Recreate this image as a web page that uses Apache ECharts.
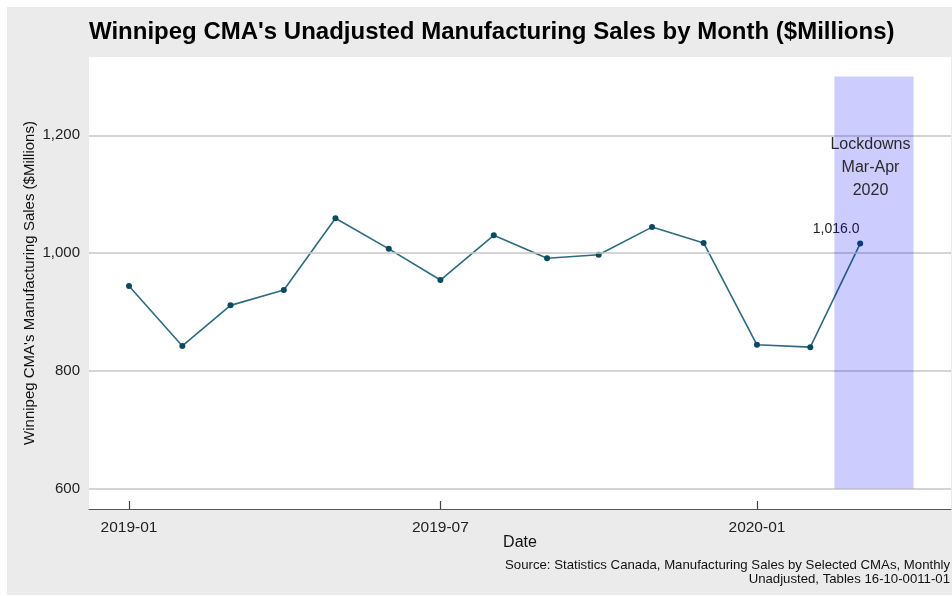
<!DOCTYPE html>
<html>
<head>
<meta charset="utf-8">
<script src="https://cdn.jsdelivr.net/npm/echarts@6/dist/echarts.min.js"></script>
<style>
  html, body { margin: 0; padding: 0; background: #ffffff; }
  #chart { position: absolute; left: 7px; top: 7px; width: 945px; height: 588px; }
</style>
</head>
<body>
<div id="chart"></div>
<script>
// Monthly unadjusted manufacturing sales, Winnipeg CMA ($ millions)
const months = ['2019-01','2019-02','2019-03','2019-04','2019-05','2019-06','2019-07',
                '2019-08','2019-09','2019-10','2019-11','2019-12','2020-01','2020-02','2020-03'];
const sales = [944, 842, 911, 937, 1059, 1007, 954, 1030, 991, 997, 1044, 1017, 844, 840, 1016];

// Axis ticks
const xTickMonths = ['2019-01', '2019-07', '2020-01'];
const yTicks = [600, 800, 1000, 1200];

// Lockdown period band and its note
const lockdownStart = '2020-02-15';
const lockdownEnd = '2020-04-01';
const lockdownLow = 600;
const lockdownHigh = 1300;
const lockdownNote = 'Lockdowns\nMar-Apr\n2020';
const lockdownNoteDate = '2020-03-07';
const lockdownNoteValue = 1145;

const titleText = "Winnipeg CMA's Unadjusted Manufacturing Sales by Month ($Millions)";
const yName = "Winnipeg CMA's Manufacturing Sales ($Millions)";
const xName = 'Date';
const sourceText = 'Source: Statistics Canada, Manufacturing Sales by Selected CMAs, Monthly\nUnadjusted, Tables 16-10-0011-01';

function toTime(s) {
  const p = s.split('-').map(Number);
  return new Date(p[0], p[1] - 1, p[2] || 1).getTime();
}
const fmtNum = v => Number(v).toLocaleString('en-US');

const lineData = months.map((m, i) => [toTime(m), sales[i]]);
const lastIdx = lineData.length - 1;

const font = 'Liberation Sans, Arial, sans-serif';
const chart = echarts.init(document.getElementById('chart'));

chart.setOption({
  backgroundColor: '#ebebeb',
  animation: false,
  textStyle: { fontFamily: font },
  title: {
    text: titleText,
    left: 82,
    top: 13,
    padding: 0,
    textStyle: { fontFamily: font, fontSize: 24, fontWeight: 'bold', color: '#000' }
  },
  grid: {
    left: 82, top: 50, width: 862, height: 452,
    show: true, backgroundColor: '#ffffff', borderWidth: 0
  },
  xAxis: {
    // dates as millisecond timestamps
    type: 'value',
    scale: true,
    min: toTime('2018-12-09') - 6 * 3600000,
    max: toTime('2020-04-23') - 5 * 3600000,
    name: xName,
    nameLocation: 'middle',
    nameGap: 26,
    nameMoveOverlap: false,
    nameTextStyle: { fontSize: 16, color: '#111', verticalAlign: 'top' },
    axisLine: { show: true, lineStyle: { color: '#555', width: 1.2 } },
    axisTick: {
      show: true, inside: true, length: 8,
      customValues: xTickMonths.map(toTime),
      lineStyle: { color: '#444', width: 1.2 }
    },
    axisLabel: {
      customValues: xTickMonths.map(toTime),
      margin: 11,
      fontSize: 15.5,
      color: '#222',
      formatter: v => {
        const d = new Date(v);
        return d.getFullYear() + '-' + String(d.getMonth() + 1).padStart(2, '0');
      }
    },
    splitLine: { show: false }
  },
  yAxis: {
    type: 'value',
    min: 565,
    max: 1333,
    name: yName,
    nameLocation: 'middle',
    nameGap: 52,
    nameMoveOverlap: false,
    nameTextStyle: { fontSize: 15, color: '#111' },
    axisLine: { show: false },
    axisTick: { show: false },
    axisLabel: {
      customValues: yTicks,
      margin: 9,
      fontSize: 15,
      color: '#222',
      formatter: v => fmtNum(v)
    },
    splitLine: { show: false }
  },
  graphic: [{
    type: 'text',
    x: 943,
    y: 551,
    style: {
      text: sourceText,
      font: '13.2px ' + font,
      fill: '#111',
      align: 'right',
      verticalAlign: 'top',
      lineHeight: 14
    }
  }],
  series: [
    {
      // horizontal reference lines
      type: 'line',
      z: 1,
      data: [],
      silent: true,
      markLine: {
        silent: true,
        symbol: 'none',
        label: { show: false },
        lineStyle: { color: '#c6c6c6', width: 1.6, type: 'solid' },
        data: yTicks.map(v => ({ yAxis: v }))
      }
    },
    {
      type: 'line',
      z: 3,
      data: lineData,
      symbol: 'circle',
      symbolSize: 6,
      lineStyle: { color: '#2d6b80', width: 1.6 },
      itemStyle: { color: '#0b4a63' },
      label: {
        show: true,
        position: 'top',
        offset: [-24, 1],
        fontSize: 14,
        color: '#222',
        formatter: p => p.dataIndex === lastIdx
          ? Number(p.value[1]).toLocaleString('en-US', { minimumFractionDigits: 1, maximumFractionDigits: 1 })
          : ''
      }
    },
    {
      // lockdown band with its note
      type: 'custom',
      z: 5,
      silent: true,
      clip: false,
      encode: { x: [0, 1], y: [2, 3] },
      data: [[toTime(lockdownStart), toTime(lockdownEnd), lockdownLow, lockdownHigh]],
      renderItem: (params, api) => {
        const p0 = api.coord([api.value(0), api.value(3)]);
        const p1 = api.coord([api.value(1), api.value(2)]);
        const pt = api.coord([toTime(lockdownNoteDate), lockdownNoteValue]);
        return {
          type: 'group',
          children: [
            {
              type: 'rect',
              shape: { x: p0[0], y: p0[1], width: p1[0] - p0[0], height: p1[1] - p0[1] },
              style: { fill: 'rgba(0,0,255,0.2)' }
            },
            {
              type: 'text',
              x: pt[0], y: pt[1],
              style: {
                text: lockdownNote,
                font: '16px ' + font,
                fill: '#2a2a2a',
                align: 'center',
                verticalAlign: 'middle',
                lineHeight: 23
              }
            }
          ]
        };
      }
    }
  ]
});
</script>
</body>
</html>
